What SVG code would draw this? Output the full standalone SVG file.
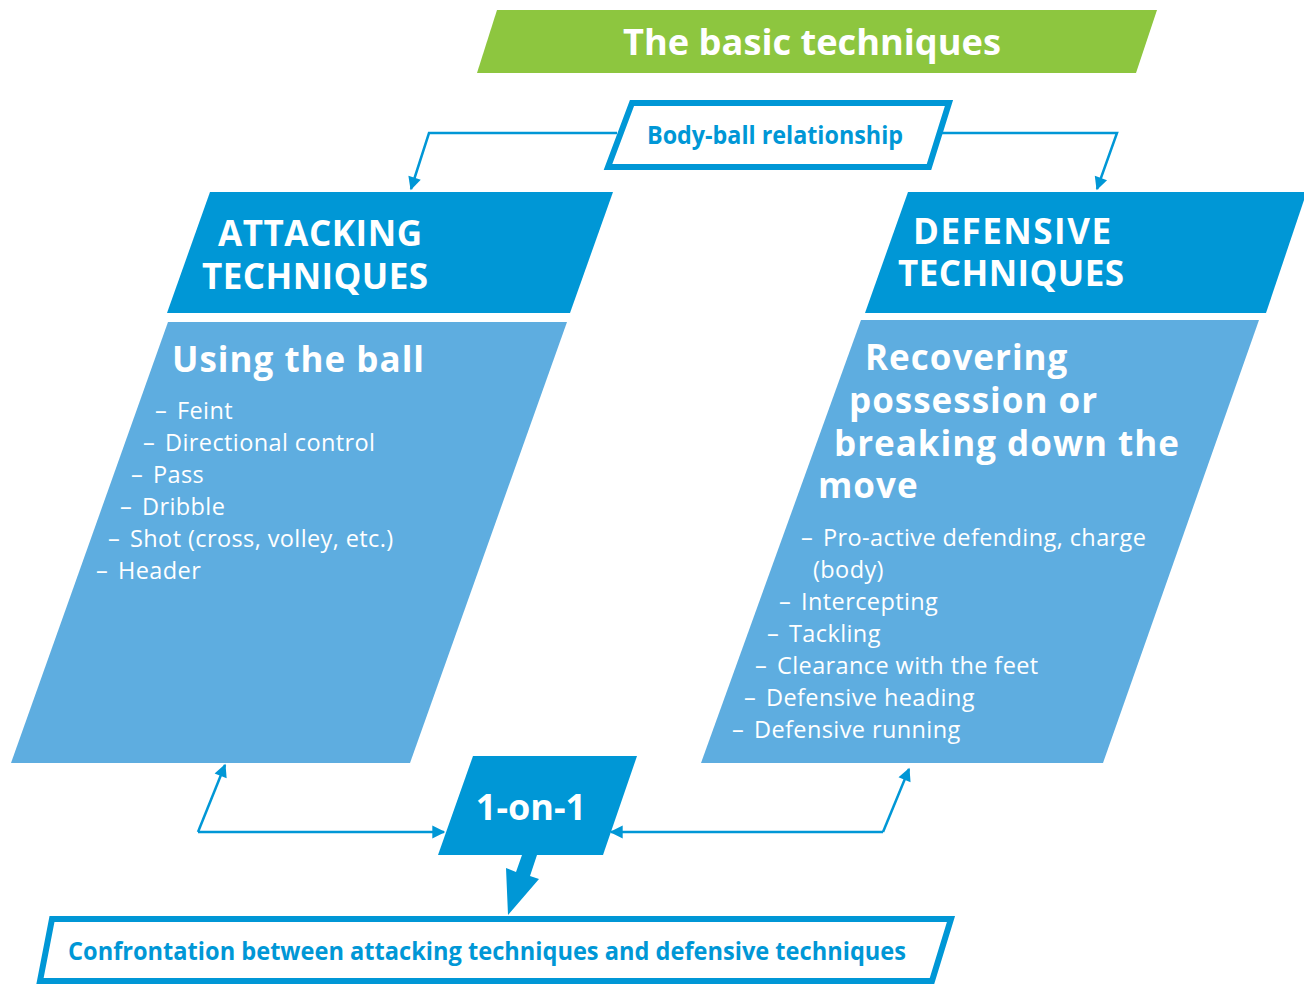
<svg xmlns="http://www.w3.org/2000/svg" width="1304" height="985" viewBox="0 0 1304 985">
<defs>
<style>
.dark{fill:#0097d6}
.light{fill:#5eade0}
.frame{fill:#fff;stroke:#0097d6;stroke-width:6}
.hd{font-family:"Open Sans","Liberation Sans",sans-serif;font-weight:700;fill:#fff}
.mx{letter-spacing:1px}
.li{font-family:"Open Sans","Liberation Sans",sans-serif;font-size:23.5px;letter-spacing:0.4px;fill:#fff}
.bl{font-family:"Open Sans","Liberation Sans",sans-serif;font-weight:700;fill:#0097d6}
.con{fill:none;stroke:#0097d6;stroke-width:2.5}
</style>
<marker id="ah" viewBox="0 0 10 10" refX="9" refY="5" markerWidth="17" markerHeight="13" markerUnits="userSpaceOnUse" orient="auto" overflow="visible">
<path d="M0,0 L10,5 L0,10 z" fill="#0097d6"/>
</marker>
</defs>
<rect width="1304" height="985" fill="#fff"/>

<g id="title">
<polygon points="497,10 1157,10 1136,73 477,73" fill="#8dc63f"/>
<text class="hd" x="812" y="55" font-size="36" text-anchor="middle" textLength="378" lengthAdjust="spacingAndGlyphs">The basic techniques</text>
</g>

<g id="body-ball">
<polygon class="frame" points="632,103 949,103 929,167 608,167"/>
<text class="bl" x="775" y="144" font-size="25" text-anchor="middle" textLength="256" lengthAdjust="spacingAndGlyphs">Body-ball relationship</text>
</g>

<g id="attacking-header">
<polygon class="dark" points="210,192 613,192 570,313 167,313"/>
<text class="hd" font-size="35"><tspan x="218" y="246" textLength="204">ATTACKING</tspan><tspan x="202" y="289" textLength="226">TECHNIQUES</tspan></text>
</g>

<g id="attacking-body">
<polygon class="light" points="168,322 567,322 410,763 11,763"/>
<text class="hd mx" x="172" y="372" font-size="35">Using the ball</text>
<text class="li">
<tspan x="155" y="419">–</tspan><tspan x="177" y="419">Feint</tspan>
<tspan x="143" y="451">–</tspan><tspan x="165" y="451">Directional control</tspan>
<tspan x="131" y="483">–</tspan><tspan x="153" y="483">Pass</tspan>
<tspan x="120" y="515">–</tspan><tspan x="142" y="515">Dribble</tspan>
<tspan x="108" y="547">–</tspan><tspan x="130" y="547">Shot (cross, volley, etc.)</tspan>
<tspan x="96" y="579">–</tspan><tspan x="118" y="579">Header</tspan>
</text>
</g>

<g id="defensive-header">
<polygon class="dark" points="908,192 1304,192 1304,200 1266,313 865,313"/>
<text class="hd" font-size="35"><tspan x="913" y="244" textLength="198">DEFENSIVE</tspan><tspan x="898" y="286" textLength="226">TECHNIQUES</tspan></text>
</g>

<g id="defensive-body">
<polygon class="light" points="861,320 1259,320 1103,763 701,763"/>
<text class="hd mx" font-size="35">
<tspan x="865" y="370">Recovering</tspan>
<tspan x="849" y="413">possession or</tspan>
<tspan x="834" y="456">breaking down the</tspan>
<tspan x="818" y="498">move</tspan>
</text>
<text class="li">
<tspan x="801" y="546">–</tspan><tspan x="823" y="546">Pro-active defending, charge</tspan>
<tspan x="813" y="578">(body)</tspan>
<tspan x="779" y="610">–</tspan><tspan x="801" y="610">Intercepting</tspan>
<tspan x="767" y="642">–</tspan><tspan x="789" y="642">Tackling</tspan>
<tspan x="755" y="674">–</tspan><tspan x="777" y="674">Clearance with the feet</tspan>
<tspan x="744" y="706">–</tspan><tspan x="766" y="706">Defensive heading</tspan>
<tspan x="732" y="738">–</tspan><tspan x="754" y="738">Defensive running</tspan>
</text>
</g>

<g id="one-on-one">
<polygon class="dark" points="473,756 637,756 603,855 438,855"/>
<text class="hd" x="531" y="820" font-size="36" text-anchor="middle">1-on-1</text>
</g>

<g id="confrontation">
<polygon class="frame" points="52,919 951,919 932,981 40,981"/>
<text class="bl" x="68" y="960" font-size="25" textLength="838" lengthAdjust="spacingAndGlyphs">Confrontation between attacking techniques and defensive techniques</text>
</g>

<g id="connectors">
<polyline class="con" points="617,133 429,133 411,189" marker-end="url(#ah)"/>
<polyline class="con" points="940,133 1117,133 1097,189" marker-end="url(#ah)"/>
<polyline class="con" points="198,832 444,832" marker-end="url(#ah)"/>
<polyline class="con" points="198,832 225,765" marker-end="url(#ah)"/>
<polyline class="con" points="883,832 611,832" marker-end="url(#ah)"/>
<polyline class="con" points="883,832 909,769" marker-end="url(#ah)"/>
<polygon points="522,855 537,855 530,876 539,879 508,915 506,868 516,872" fill="#0097d6"/>
</g>
</svg>
